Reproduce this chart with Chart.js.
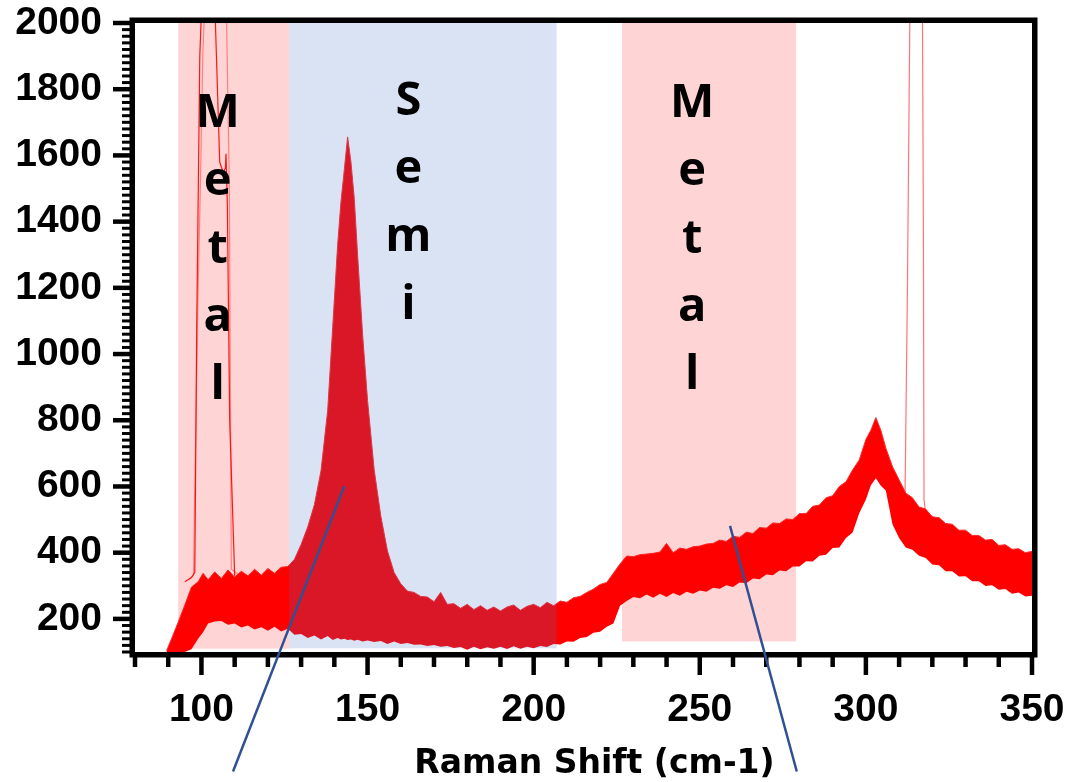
<!DOCTYPE html>
<html>
<head>
<meta charset="utf-8">
<title>Raman Shift</title>
<script src="https://cdn.jsdelivr.net/npm/chart.js@4.4.1/dist/chart.umd.min.js"></script>
<style>
  html, body { margin: 0; padding: 0; background: #fff; }
  canvas { display: block; }
</style>
</head>
<body>
<canvas id="ramanChart" width="1071" height="782"></canvas>
<script>
// sampled Raman shift positions (cm-1)
const shift = [
  89.5, 91, 93, 95, 97, 99, 100.5, 102, 104, 106,
  108, 110, 112, 114, 116, 118, 120, 122, 124, 126,
  128, 130, 132, 134, 136, 138, 139.5, 141, 142, 143,
  144, 145, 146, 147, 148.5, 150, 152, 154, 156, 158,
  160, 162, 164, 166, 168, 170, 172, 174, 176, 178,
  180, 182, 184, 186, 188, 190, 192, 194, 196, 198,
  200, 202, 204, 206, 208, 210, 212, 214, 216, 218,
  220, 222, 224, 226, 228, 230, 232, 234, 236, 238,
  240, 242, 244, 246, 248, 250, 252, 254, 256, 258,
  260, 262, 264, 266, 268, 270, 272, 274, 276, 278,
  280, 282, 284, 286, 288, 290, 292, 294, 296, 298,
  300, 301.5, 303, 304.5, 306, 308, 310, 312, 314, 316,
  318, 320, 322, 324, 326, 328, 330, 332, 334, 336,
  338, 340, 342, 344, 346, 348, 350
];
// highest of all the overlaid spectra at each position
const bandTop = [
  104, 140, 190, 242, 296, 312, 338, 318, 342, 322,
  348, 326, 344, 330, 350, 332, 352, 338, 356, 358,
  380, 425, 478, 545, 648, 830, 1080, 1330, 1460, 1557,
  1656, 1580, 1470, 1300, 1060, 860, 650, 510, 405, 340,
  306, 284, 280, 268, 266, 252, 280, 244, 246, 232,
  244, 228, 240, 226, 236, 224, 236, 242, 226, 238,
  244, 234, 250, 240, 254, 250, 264, 268, 280, 290,
  304, 310, 338, 366, 390, 388, 394, 396, 398, 402,
  428, 400, 414, 410, 418, 420, 426, 428, 438, 434,
  450, 446, 462, 458, 476, 474, 490, 488, 502, 500,
  518, 518, 540, 544, 566, 572, 600, 614, 650, 680,
  742, 770, 808, 770, 716, 660, 620, 580, 566, 538,
  532, 508, 506, 488, 486, 468, 468, 452, 452, 438,
  440, 422, 424, 410, 412, 400, 404
];
// lowest of all the overlaid spectra
const bandBottom = [
  100, 100, 100, 100, 108, 140, 160, 186, 192, 194,
  182, 186, 174, 180, 168, 175, 164, 176, 162, 170,
  152, 154, 142, 150, 138, 148, 136, 142, 138, 140,
  136, 138, 134, 137, 132, 135, 130, 133, 124, 132,
  124, 127, 122, 123, 118, 121, 116, 118, 112, 115,
  107, 116, 108, 114, 110, 116, 109, 117, 110, 116,
  111, 118, 115, 124, 123, 132, 131, 142, 145, 158,
  161, 176, 186, 240, 254, 266, 262, 274, 264, 276,
  266, 278, 270, 282, 276, 286, 282, 294, 291, 302,
  296, 310, 308, 322, 320, 334, 332, 346, 344, 358,
  358, 374, 373, 391, 394, 414, 416, 444, 461, 519,
  561, 604, 625, 602, 588, 486, 444, 416, 409, 391,
  384, 364, 362, 344, 344, 328, 329, 314, 314, 299,
  302, 288, 290, 276, 280, 268, 270
];

// single spectra that run off the top of the plot
const spikeAShift = [95, 97, 98, 98.6, 99.5, 101, 103.5, 104.2, 105.5, 106.5, 107.2, 107.4, 107.8, 108.5, 110];
const spikeAValue = [312, 325, 340, 1100, 1900, 2300, 2200, 2000, 1580, 1550, 1560, 1605, 1450, 800, 330];
const spikeBShift = [96, 97.6, 98.8, 99.6, 100.4, 101.2, 103, 106, 107.5, 108.4, 109, 111];
const spikeBValue = [318, 332, 1100, 1470, 1900, 2100, 2300, 2200, 2050, 1500, 350, 335];
const spikeCShift = [308, 310, 311.8, 312.5, 312.9, 313.3, 315, 317, 317.3, 317.5, 318, 321];
const spikeCValue = [600, 590, 585, 1200, 1640, 2100, 2300, 2100, 1380, 560, 520, 505];

const xTickLabels = [100, 150, 200, 250, 300, 350];
const yTickLabels = [200, 400, 600, 800, 1000, 1200, 1400, 1600, 1800, 2000];

// shaded regions
const regionNames = ['Metal', 'Semi', 'Metal'];
const regionFrom = [93.0, 126.4, 226.6];
const regionTo = [126.4, 206.9, 279.0];
const regionFloor = [110, 111, 132];
const regionLabelX = [104.9, 162.3, 247.7];
const regionLabelTop = [1686, 1722, 1716];

// the two pointer lines running below the axis
const calloutFrom = [[143.0, 601], [259.1, 481]];
const calloutTo = [[109.5, -261], [279.2, -261]];

function pts(xs, ys) {
    return xs.map((x, i) => ({ x: x, y: ys[i] }));
}

function noPadding(s) {
    s.paddingTop = 0;
    s.paddingBottom = 0;
    s.paddingLeft = 0;
    s.paddingRight = 0;
}

const regionFill = {
    id: 'regionFill',
    afterDatasetsDraw(chart) {
        const { ctx, scales: { x, y } } = chart;
        ctx.save();
        regionNames.forEach((name, i) => {
            ctx.fillStyle = name === 'Semi' ? 'rgba(68,114,196,0.2)' : 'rgba(255,0,0,0.17)';
            const x0 = x.getPixelForValue(regionFrom[i]);
            const x1 = x.getPixelForValue(regionTo[i]);
            const y0 = y.getPixelForValue(2000);
            const y1 = y.getPixelForValue(regionFloor[i]);
            ctx.fillRect(x0, y0, x1 - x0, y1 - y0);
        });
        ctx.restore();
    }
};

const decorations = {
    id: 'decorations',
    afterDraw(chart) {
        const { ctx, chartArea: a, scales: { x, y } } = chart;
        ctx.save();

        // frame
        ctx.strokeStyle = '#000';
        ctx.lineWidth = 5.5;
        ctx.strokeRect(a.left - 2.75, a.top - 2.75, a.right - a.left + 5.5, a.bottom - a.top + 5.5);

        // x ticks
        ctx.lineWidth = 4.5;
        for (let v = 80; v <= 350; v += 10) {
            const px = x.getPixelForValue(v);
            const len = v % 50 === 0 ? 23 : 15;
            ctx.beginPath();
            ctx.moveTo(px, a.bottom + 4);
            ctx.lineTo(px, a.bottom + len);
            ctx.stroke();
        }
        // y ticks
        for (let v = 100; v <= 2000; v += 20) {
            const py = y.getPixelForValue(v);
            const major = v % 200 === 0;
            ctx.lineWidth = major ? 4.5 : 3;
            ctx.beginPath();
            ctx.moveTo(a.left - 4, py);
            ctx.lineTo(a.left - (major ? 22 : 13), py);
            ctx.stroke();
        }

        // vertical region labels
        ctx.fillStyle = '#000';
        ctx.font = 'bold 47px "Open Sans", sans-serif';
        ctx.textAlign = 'center';
        ctx.textBaseline = 'alphabetic';
        regionNames.forEach((name, i) => {
            const cx = x.getPixelForValue(regionLabelX[i]);
            const top = y.getPixelForValue(regionLabelTop[i]);
            name.split('').forEach((ch, k) => {
                ctx.fillText(ch, cx, top + k * 68);
            });
        });

        // callout lines
        ctx.strokeStyle = '#2F5193';
        ctx.lineWidth = 2.5;
        calloutFrom.forEach((p, i) => {
            ctx.beginPath();
            ctx.moveTo(x.getPixelForValue(p[0]), y.getPixelForValue(p[1]));
            ctx.lineTo(x.getPixelForValue(calloutTo[i][0]), y.getPixelForValue(calloutTo[i][1]));
            ctx.stroke();
        });

        // axis title
        ctx.fillStyle = '#000';
        ctx.font = 'bold 33px "DejaVu Sans", sans-serif';
        ctx.textAlign = 'center';
        ctx.fillText('Raman Shift (cm-1)', (a.left + a.right) / 2 + 11, 773);

        ctx.restore();
    }
};

const tickFont = { family: '"Liberation Sans", Arial, sans-serif', size: 39, weight: 'bold' };

const ctx = document.getElementById('ramanChart').getContext('2d');
const chart = new Chart(ctx, {
    type: 'line',
    data: {
        datasets: [
            {
                label: 'min',
                data: pts(shift, bandBottom),
                borderWidth: 0,
                borderColor: '#ff0000',
                pointRadius: 0,
                fill: false
            },
            {
                label: 'max',
                data: pts(shift, bandTop),
                borderWidth: 1,
                borderColor: '#ff2a2a',
                backgroundColor: '#ff0000',
                pointRadius: 0,
                fill: '-1'
            },
            {
                label: 'spike A',
                data: pts(spikeAShift, spikeAValue),
                borderWidth: 1.2,
                borderColor: 'rgba(255,0,0,0.9)',
                pointRadius: 0,
                fill: false
            },
            {
                label: 'spike B',
                data: pts(spikeBShift, spikeBValue),
                borderWidth: 1.2,
                borderColor: 'rgba(255,90,90,0.6)',
                pointRadius: 0,
                fill: false
            },
            {
                label: 'spike C',
                data: pts(spikeCShift, spikeCValue),
                borderWidth: 1.2,
                borderColor: 'rgba(255,70,70,0.75)',
                pointRadius: 0,
                fill: false
            }
        ]
    },
    options: {
        responsive: false,
        animation: false,
        layout: { padding: { top: 23, right: 39, left: 0, bottom: 0 } },
        plugins: {
            legend: { display: false },
            tooltip: { enabled: false }
        },
        elements: { line: { tension: 0 } },
        scales: {
            x: {
                type: 'linear',
                min: 80,
                max: 350,
                border: { display: false },
                grid: { display: false, drawTicks: false },
                afterBuildTicks: s => { s.ticks = xTickLabels.map(v => ({ value: v })); },
                afterFit: s => { s.height = 130; noPadding(s); },
                ticks: {
                    padding: 35,
                    color: '#000',
                    font: tickFont,
                    callback: v => String(v)
                }
            },
            y: {
                min: 100,
                max: 2000,
                border: { display: false },
                grid: { display: false, drawTicks: false },
                afterBuildTicks: s => { s.ticks = yTickLabels.map(v => ({ value: v })); },
                afterFit: s => { s.width = 135; noPadding(s); },
                ticks: {
                    padding: 33,
                    color: '#000',
                    font: tickFont,
                    callback: v => String(v)
                }
            }
        }
    },
    plugins: [regionFill, decorations]
});
</script>
</body>
</html>
